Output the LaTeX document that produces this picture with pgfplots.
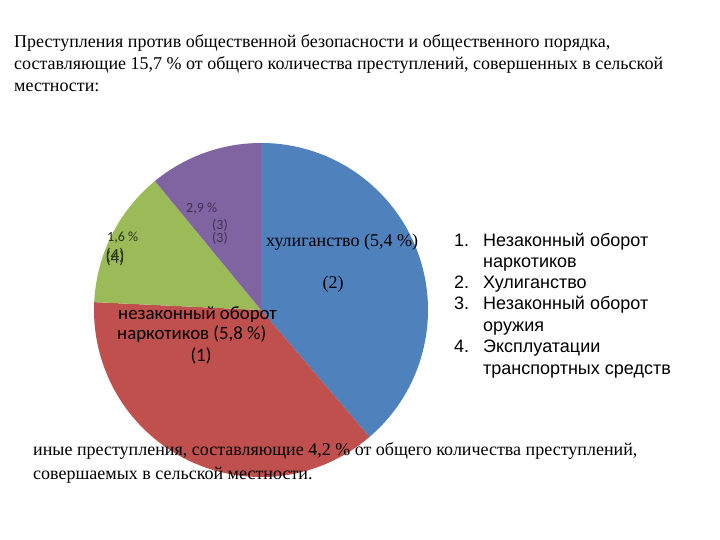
\documentclass[border=0pt]{standalone}
\usepackage{pgfplots}
\usepackage{pgfplotstable}
\pgfplotsset{compat=1.18}
\usepackage{fontspec}
\setmainfont{Liberation Serif}
\newfontfamily\arial{Liberation Sans}
\newfontfamily\calibri{Carlito}
\definecolor{pieblue}{HTML}{4F81BD}
\definecolor{piered}{HTML}{C0504D}
\definecolor{piegreen}{HTML}{9BBB59}
\definecolor{piepurple}{HTML}{8064A2}
\definecolor{lblpurple}{HTML}{3F3151}
\definecolor{lblgreen}{HTML}{2A3318}

% slice shares (clockwise from 12 o'clock)
\pgfplotstableread{
slice value
2 38.75
1 37.00
4 13.30
3 10.95
}\piedata

\pgfplotstablegetelem{0}{value}\of\piedata \pgfmathsetmacro\vA{\pgfplotsretval}
\pgfplotstablegetelem{1}{value}\of\piedata \pgfmathsetmacro\vB{\pgfplotsretval}
\pgfplotstablegetelem{2}{value}\of\piedata \pgfmathsetmacro\vC{\pgfplotsretval}
\pgfplotstablegetelem{3}{value}\of\piedata \pgfmathsetmacro\vD{\pgfplotsretval}
\pgfmathsetmacro\sumv{\vA+\vB+\vC+\vD}
\pgfmathsetmacro\aA{90}
\pgfmathsetmacro\aB{\aA-360*\vA/\sumv}
\pgfmathsetmacro\aC{\aB-360*\vB/\sumv}
\pgfmathsetmacro\aD{\aC-360*\vC/\sumv}
\pgfmathsetmacro\aE{\aD-360*\vD/\sumv}
\def\cx{261}\def\cy{230}\def\rr{167}

\newcommand{\slice}[3]{%
  \fill[#1] (axis cs:\cx,\cy) -- (axis cs:{\cx+\rr*cos(#2)},{\cy+\rr*sin(#2)})
    arc[start angle=#2, end angle=#3, radius=\rr pt] -- cycle;}

\begin{document}
\begin{tikzpicture}
\begin{axis}[
  x=1pt, y=1pt,
  xmin=0, xmax=720, ymin=0, ymax=540,
  hide axis, clip=false,
]
\path (axis cs:0,0) rectangle (axis cs:720,540);
\slice{pieblue}{\aA}{\aB}
\slice{piered}{\aB}{\aC}
\slice{piegreen}{\aC}{\aD}
\slice{piepurple}{\aD}{\aE}

% title
\begin{scope}[every node/.style={anchor=base west, inner sep=0pt, font=\fontsize{18}{20}\selectfont}]
\node at (axis cs:14,492) {Преступления против общественной безопасности и общественного порядка,};
\node at (axis cs:14,470) {составляющие 15,7 \% от общего количества преступлений, совершенных в сельской};
\node at (axis cs:14,448) {местности:};
% bottom
\node at (axis cs:33,84) {иные преступления, составляющие 4,2 \% от общего количества преступлений,};
\node at (axis cs:33,60) {совершаемых в сельской местности.};
\end{scope}

% pie labels
\node[anchor=base west, inner sep=0pt, font=\fontsize{18}{20}\selectfont] at (axis cs:266,293) {хулиганство (5,4 \%)};
\node[anchor=base, inner sep=0pt, font=\fontsize{18}{20}\selectfont] at (axis cs:333,251) {(2)};
\begin{scope}[every node/.style={inner sep=0pt, font=\calibri\fontsize{18.8}{20}\selectfont}]
\node[anchor=base west] at (axis cs:118,220) {незаконный оборот};
\node[anchor=base west] at (axis cs:117,200) {наркотиков (5,8 \%)};
\node[anchor=base] at (axis cs:201,178) {(1)};
\end{scope}
\begin{scope}[every node/.style={inner sep=0pt, font=\calibri\fontsize{14}{16}\selectfont}]
\node[anchor=base west, text=lblpurple] at (axis cs:186,327) {2,9 \%};
\node[anchor=base, text=lblpurple] at (axis cs:220,310) {(3)};
\node[anchor=base, text=lblpurple] at (axis cs:220,297) {(3)};
\node[anchor=base west, text=lblgreen] at (axis cs:107,298) {1,6 \%};
\node[anchor=base, text=lblgreen, font=\calibri\fontsize{17}{18}\selectfont] at (axis cs:115,279) {(4)};
\node[anchor=base, text=lblgreen, font=\calibri\fontsize{17}{18}\selectfont] at (axis cs:115,276) {(4)};
\end{scope}

% legend list
\begin{scope}[every node/.style={anchor=base west, inner sep=0pt, font=\arial\fontsize{18}{20}\selectfont}]
\node at (axis cs:454,293) {1.};
\node at (axis cs:483,293) {Незаконный оборот};
\node at (axis cs:483,272) {наркотиков};
\node at (axis cs:454,251) {2.};
\node at (axis cs:483,251) {Хулиганство};
\node at (axis cs:454,230) {3.};
\node at (axis cs:483,230) {Незаконный оборот};
\node at (axis cs:483,208) {оружия};
\node at (axis cs:454,187) {4.};
\node at (axis cs:483,187) {Эксплуатации};
\node at (axis cs:483,165) {транспортных средств};
\end{scope}
\end{axis}
\end{tikzpicture}
\end{document}
